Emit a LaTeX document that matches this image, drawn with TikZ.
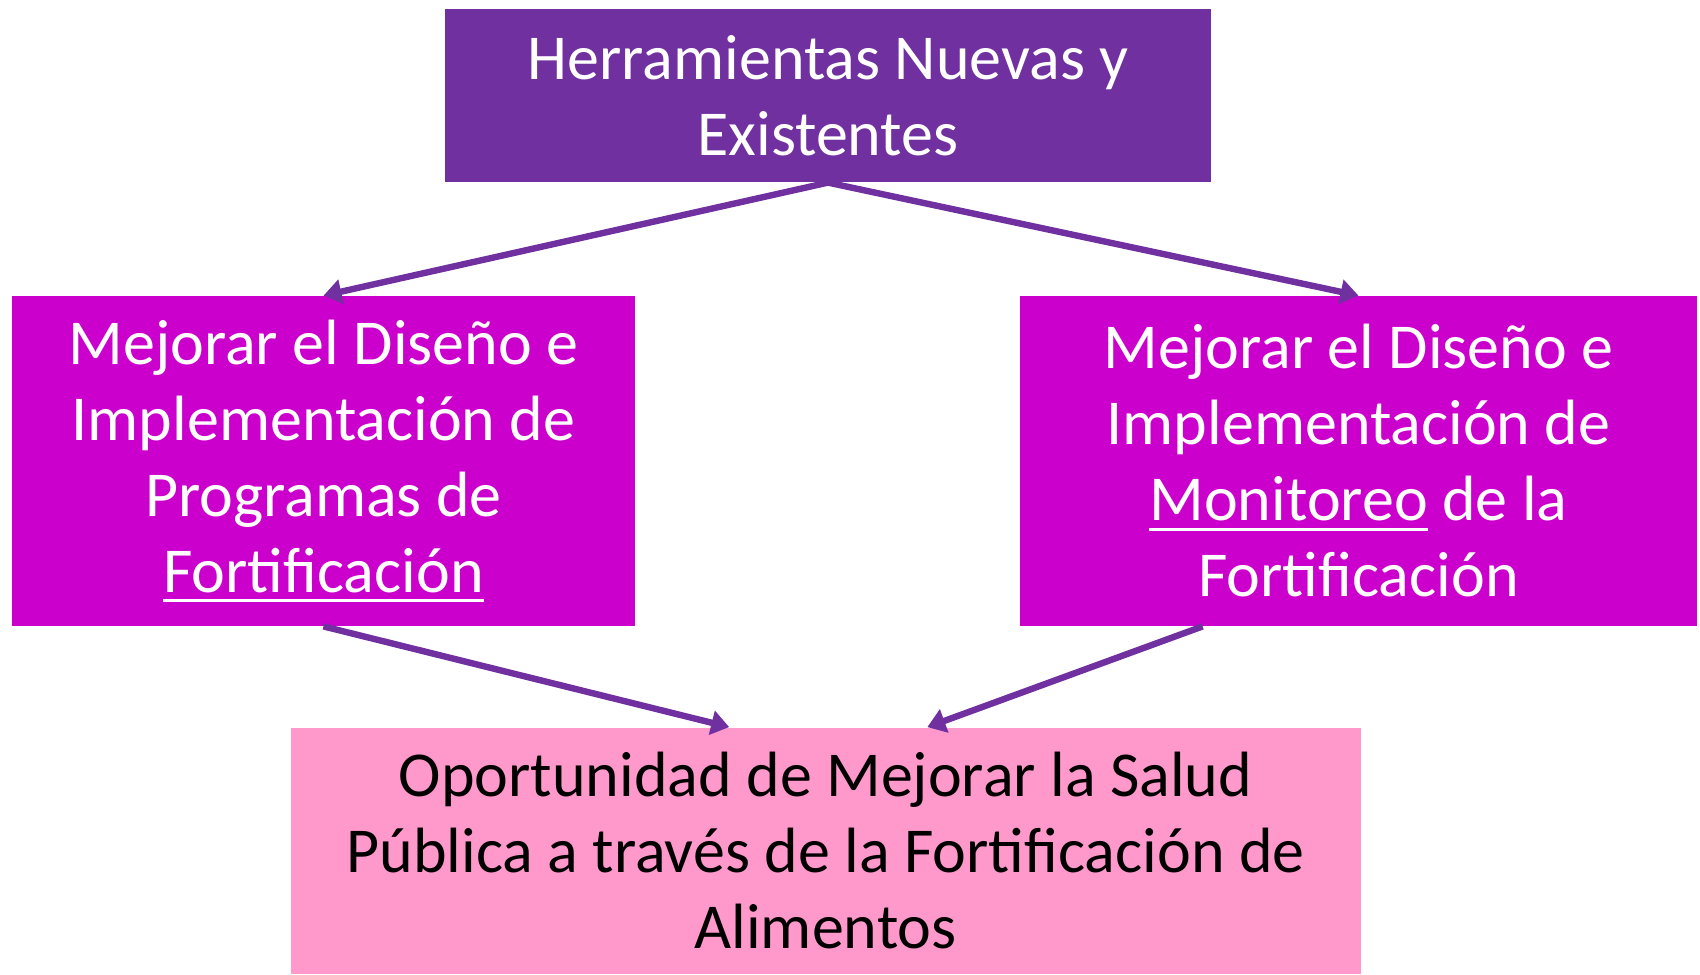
\documentclass[tikz,border=0pt]{standalone}
\usepackage{fontspec}
\setmainfont{Carlito}
\usetikzlibrary{arrows.meta,calc}

\definecolor{toolpurple}{HTML}{7030A0}
\definecolor{stepmagenta}{HTML}{CC00CC}
\definecolor{healthpink}{HTML}{FF99CC}

% underline with a heavier rule
\newcommand{\ulword}[1]{\setbox0\hbox{#1}\rlap{\rule[-5pt]{\wd0}{1.4pt}}\box0\relax}

\tikzset{
  box/.style={rectangle,inner sep=0pt,align=center,font=\fontsize{32}{38}\selectfont},
  flow/.style={draw=toolpurple,line width=3.2pt,-{Triangle[length=9pt,width=12pt]}}
}

\begin{document}
\begin{tikzpicture}[x=0.5pt,y=-0.5pt]

  \useasboundingbox (0,0) rectangle (1700,974);

  % boxes
  \node[box,fill=toolpurple,text=white,minimum width=383pt,minimum height=86.7pt] (tools) at (828,95.5)
    {Herramientas Nuevas y\\Existentes};
  \node[box,fill=stepmagenta,text=white,minimum width=311.5pt,minimum height=165pt] (design) at (323.5,461)
    {Mejorar el Diseño e\\Implementación de\\Programas de\\\ulword{Fortificación}};
  \node[box,fill=stepmagenta,text=white,minimum width=338.5pt,minimum height=165pt] (monitor) at (1358.5,461)
    {Mejorar el Diseño e\\Implementación de\\\ulword{Monitoreo} de la\\Fortificación};
  \node[box,fill=healthpink,text=black,minimum width=535pt,minimum height=123.25pt] (health) at (825.6,850.75)
    {Oportunidad de Mejorar la Salud\\Pública a través de la Fortificación de\\Alimentos};

  % arrows
  \draw[flow] (tools.south) -- (design.north);
  \draw[flow] (tools.south) -- (monitor.north);
  \draw[flow] (design.south) -- ($(health.north west)!0.41!(health.north east)$);
  \draw[flow] ($(monitor.south west)!0.27!(monitor.south east)$) -- ($(health.north west)!0.595!(health.north east)$);

\end{tikzpicture}
\end{document}
